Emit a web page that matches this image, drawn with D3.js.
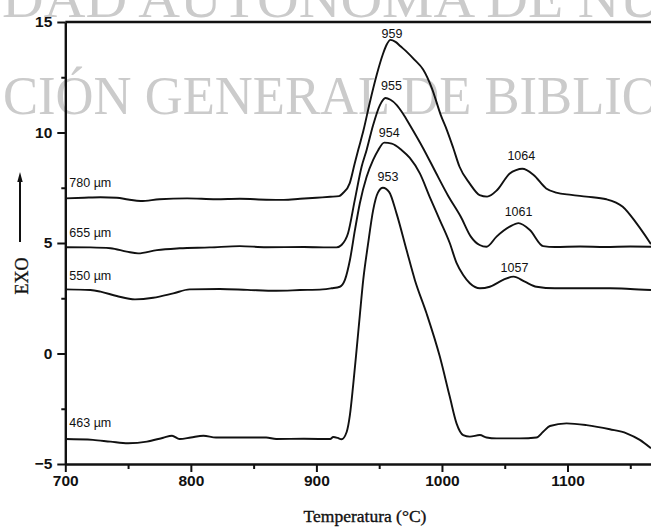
<!DOCTYPE html>
<html>
<head>
<meta charset="utf-8">
<script src="https://cdn.jsdelivr.net/npm/d3@7"></script>
<style>
  html, body { margin: 0; padding: 0; background: #fff; }
  svg { display: block; }
</style>
</head>
<body>
<svg id="chart" width="651" height="532"></svg>
<script>
// ---- DSC traces: [temperature °C, heat flow] ----
const sampleSizes = ["780 µm", "655 µm", "550 µm", "463 µm"];

const curve780 = [
  [700,7.02],[715,7.05],[728,7.07],[741,7.05],[750,6.97],[760,6.9],[775,6.98],[797,7.02],
  [820,6.98],[839,7.0],[860,6.96],[874,6.95],[887,7.0],[900,7.05],[911,7.09],[918,7.12],
  [921,7.25],[926.5,7.7],[930.5,8.6],[933.5,9.25],[937.5,10.1],[942.5,11.35],[948,12.6],
  [953,13.55],[956,13.98],[959,14.19],[963,14.1],[967,13.9],[972,13.65],[978,13.3],
  [985,12.85],[992,12.0],[999,10.8],[1004,10.1],[1009,9.3],[1014,8.45],[1022,7.7],
  [1030,7.17],[1036,7.1],[1044,7.4],[1054,8.15],[1059,8.3],[1064,8.36],[1073,8.08],
  [1083,7.47],[1091,7.28],[1103,7.18],[1115,7.1],[1131,6.98],[1144,6.64],[1155,5.89],
  [1166.5,4.95]
];

const curve655 = [
  [700,4.81],[720,4.8],[736,4.76],[749,4.61],[758,4.53],[773,4.68],[791,4.76],[815,4.8],
  [839,4.86],[860,4.81],[890,4.82],[910,4.8],[916,4.8],[920,4.91],[925.2,5.44],[930.6,6.95],
  [936,8.45],[940,9.21],[945.2,10.34],[950.6,11.24],[955,11.56],[959,11.48],[964,11.24],
  [969,10.85],[974.4,10.34],[985,9.29],[995,8.2],[1005,7.13],[1015,6.19],[1023,5.29],
  [1030,4.91],[1035.5,4.83],[1043.5,5.29],[1054,5.74],[1061,5.9],[1070,5.59],[1080.6,4.86],
  [1090,4.82],[1110,4.84],[1130,4.82],[1150,4.84],[1166.5,4.83]
];

const curve550 = [
  [700,2.9],[720,2.87],[728,2.8],[741,2.6],[755.5,2.45],[770,2.52],[786,2.72],[799,2.9],
  [823,2.92],[845,2.88],[868,2.84],[887,2.87],[905,2.9],[912,2.95],[918.7,3.02],[922.7,3.33],
  [926.7,4.23],[930.7,5.59],[934.6,6.8],[940,8.0],[945.2,8.76],[949.2,9.2],[954,9.54],
  [960,9.5],[968,9.2],[974.4,8.85],[982.4,8.15],[990.3,7.08],[998.3,6.04],[1006.2,5.0],
  [1011.6,4.1],[1016.9,3.55],[1022.2,3.18],[1030.2,2.95],[1038.1,3.02],[1048.7,3.33],
  [1057,3.48],[1066,3.25],[1075.3,3.02],[1090,2.95],[1110,2.95],[1134,2.95],[1150,2.92],
  [1166.5,2.87]
];

const curve463 = [
  [700,-3.87],[722,-3.91],[736,-3.99],[750,-4.06],[765,-3.99],[778,-3.81],[785,-3.72],
  [791,-3.87],[800,-3.8],[810,-3.72],[820,-3.8],[840,-3.8],[860,-3.8],[868,-3.87],[890,-3.86],
  [911,-3.87],[913.4,-3.78],[917,-3.82],[920,-3.88],[924.1,-3.55],[926.7,-2.78],[929.3,-1.42],
  [932,0.16],[934.6,1.74],[937.3,3.33],[941,4.9],[945.2,6.49],[949,7.28],[953,7.5],[958,7.3],
  [963.8,6.34],[971.8,4.68],[978.4,3.33],[987.7,1.82],[998.3,-0.14],[1006.2,-1.95],
  [1011.6,-3.16],[1016.9,-3.69],[1022.2,-3.76],[1030.2,-3.69],[1035.5,-3.8],[1043.5,-3.84],
  [1062,-3.84],[1075.3,-3.8],[1080.6,-3.54],[1086,-3.28],[1099.2,-3.16],[1115.1,-3.24],
  [1133.7,-3.43],[1147,-3.61],[1157.6,-3.91],[1166.5,-4.29]
];

const series = [curve780, curve655, curve550, curve463];

// peak temperatures marked on each trace
const peakTemps = [[959, 1064], [955, 1061], [954, 1057], [953]];

const xMajor = [700, 800, 900, 1000, 1100];
const xMinor = [750, 850, 950, 1050, 1150];
const yMajor = [-5, 0, 5, 10, 15];
const yMinor = [-2.5, 2.5, 7.5, 12.5];

const xTitle = "Temperatura (°C)";
const yTitle = "EXO";
const watermarkText = ["DAD AUTÓNOMA DE NUEVO LEÓN", "CIÓN GENERAL DE BIBLIOTECAS"];

// ---- layout ----
const W = 651, H = 532;
const svg = d3.select("#chart");
const ink = "#111";

const x = d3.scaleLinear().domain([700, 1166.5]).range([65.3, 651]);
const y = d3.scaleLinear().domain([-5, 15]).range([464, 22]);

// library stamp behind the plot
const stampLayout = [
  { baseline: 17, startX: 2, prefix: 16, nextX: 578 },
  { baseline: 114, startX: 3, prefix: 21, nextX: 622 }
];
const stamp = svg.append("g")
  .attr("fill", "#cbcbcb")
  .attr("font-family", "'Liberation Serif','Times New Roman',serif")
  .attr("font-size", 55);
watermarkText.forEach((txt, i) => {
  const L = stampLayout[i];
  const t = stamp.append("text").attr("x", 0).attr("y", L.baseline).text(txt);
  const len = t.node().getSubStringLength(0, L.prefix);
  const k = (L.nextX - L.startX) / len;
  t.attr("transform", `translate(${L.startX},0) scale(${k},1)`);
});

// axes
const tickFont = g => g
  .attr("font-family", "'Liberation Sans',Arial,sans-serif")
  .attr("font-size", 15.5)
  .attr("font-weight", "bold");

svg.append("g")
  .attr("transform", `translate(0,${y(-5)})`)
  .call(d3.axisBottom(x).tickValues(xMajor).tickSize(8).tickSizeOuter(0).tickPadding(3)
    .tickFormat(d3.format("d")))
  .call(tickFont);
svg.append("g")
  .attr("transform", `translate(0,${y(-5)})`)
  .call(d3.axisBottom(x).tickValues(xMinor).tickSize(5).tickFormat(""))
  .call(g => g.select(".domain").remove());

svg.append("g")
  .attr("transform", `translate(${x(700)},0)`)
  .call(d3.axisLeft(y).tickValues(yMajor).tickSize(8).tickSizeOuter(0).tickPadding(5)
    .tickFormat(d3.format("d")))
  .call(tickFont);
svg.append("g")
  .attr("transform", `translate(${x(700)},0)`)
  .call(d3.axisLeft(y).tickValues(yMinor).tickSize(4).tickFormat(""))
  .call(g => g.select(".domain").remove());

svg.selectAll(".domain").attr("stroke", ink).attr("stroke-width", 2.4);
svg.selectAll(".tick line").attr("stroke", ink).attr("stroke-width", 2);
svg.selectAll(".tick text").attr("fill", ink);

// top frame line
svg.append("line")
  .attr("x1", x(700)).attr("x2", W)
  .attr("y1", y(15)).attr("y2", y(15))
  .attr("stroke", ink).attr("stroke-width", 2.4);

// traces
const line = d3.line()
  .x(d => x(d[0]))
  .y(d => y(d[1]))
  .curve(d3.curveMonotoneX);

svg.append("g").selectAll("path")
  .data(series)
  .join("path")
  .attr("d", line)
  .attr("fill", "none")
  .attr("stroke", ink)
  .attr("stroke-width", 1.9)
  .attr("stroke-linejoin", "round");

// sample size labels at the start of each trace
const sizeLabelOffset = [11, 10, 9, 12];
svg.append("g")
  .attr("font-family", "'Liberation Sans',Arial,sans-serif")
  .attr("font-size", 12.5)
  .attr("fill", ink)
  .selectAll("text")
  .data(series)
  .join("text")
  .attr("x", x(700) + 4)
  .attr("y", (d, i) => y(d[0][1]) - sizeLabelOffset[i])
  .text((d, i) => sampleSizes[i]);

// peak temperature labels
const peakLabelOffset = [
  [[1.5, 2], [-1, 8.5]],
  [[6, 8], [0, 7]],
  [[5, 5.5], [1, 4.7]],
  [[5, 7]]
];
const peakItems = [];
peakTemps.forEach((temps, si) => {
  temps.forEach((T, pi) => {
    const pt = series[si].find(d => d[0] === T);
    peakItems.push({ T, v: pt[1], off: peakLabelOffset[si][pi] });
  });
});
svg.append("g")
  .attr("font-family", "'Liberation Sans',Arial,sans-serif")
  .attr("font-size", 12.5)
  .attr("fill", ink)
  .attr("text-anchor", "middle")
  .selectAll("text")
  .data(peakItems)
  .join("text")
  .attr("x", d => x(d.T) + d.off[0])
  .attr("y", d => y(d.v) - d.off[1])
  .text(d => d.T);

// axis titles
svg.append("text")
  .attr("x", 365).attr("y", 522)
  .attr("text-anchor", "middle")
  .attr("font-family", "'Liberation Serif','Times New Roman',serif")
  .attr("font-size", 17.5)
  .attr("fill", ink)
  .attr("stroke", ink).attr("stroke-width", 0.35)
  .text(xTitle);

svg.append("text")
  .attr("transform", "translate(28,276) rotate(-90)")
  .attr("text-anchor", "middle")
  .attr("font-family", "'Liberation Serif','Times New Roman',serif")
  .attr("font-size", 18)
  .attr("fill", ink)
  .attr("stroke", ink).attr("stroke-width", 0.3)
  .text(yTitle);

// exotherm direction arrow
svg.append("line")
  .attr("x1", 20).attr("x2", 20).attr("y1", 242).attr("y2", 180)
  .attr("stroke", ink).attr("stroke-width", 2);
svg.append("path")
  .attr("d", "M20,172 L17.3,182 L22.7,182 Z")
  .attr("fill", ink);
</script>
</body>
</html>
